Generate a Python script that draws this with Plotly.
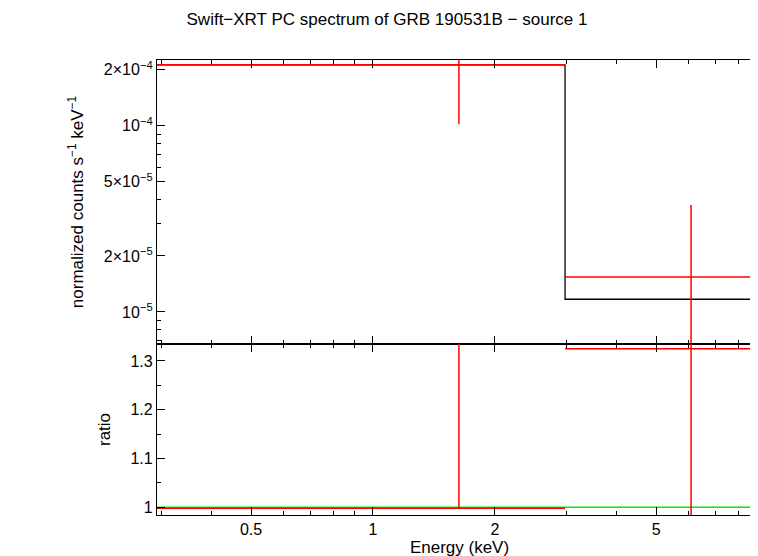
import plotly.graph_objects as go
from plotly.subplots import make_subplots
import math

x_center = [1.63, 6.1]
x_lo = [0.29, 2.98]
x_hi = [2.98, 10.0]
y_data = [2.13e-4, 1.54e-5]
y_err_lo = [1.02e-4, 1e-7]
y_err_hi = [1e-3, 3.76e-5]
model_x = [0.29, 2.98, 2.98, 10.0]
model_y = [2.13e-4, 2.13e-4, 1.17e-5, 1.17e-5]
ratio = [0.998, 1.325]
ratio_lo = [0.998, 0.5]
ratio_hi = [2.0, 2.0]

fig = make_subplots(rows=2, cols=1, shared_xaxes=True, vertical_spacing=0,
                    row_heights=[0.624, 0.376])
fig.add_trace(go.Scatter(x=model_x, y=model_y, mode="lines", line=dict(color="black", width=1.3)), 1, 1)
fig.add_trace(go.Scatter(
    x=x_center, y=y_data, mode="markers", marker=dict(size=0.1, color="red"),
    error_x=dict(type="data", symmetric=False, array=[h - c for h, c in zip(x_hi, x_center)],
                 arrayminus=[c - l for l, c in zip(x_lo, x_center)], color="red", width=0, thickness=1.5),
    error_y=dict(type="data", symmetric=False, array=[h - y for h, y in zip(y_err_hi, y_data)],
                 arrayminus=[y - l for l, y in zip(y_err_lo, y_data)], color="red", width=0, thickness=1.5)), 1, 1)
fig.add_trace(go.Scatter(x=[0.29, 10.0], y=[1.0, 1.0], mode="lines", line=dict(color="#00ee00", width=1.5)), 2, 1)
fig.add_trace(go.Scatter(
    x=x_center, y=ratio, mode="markers", marker=dict(size=0.1, color="red"),
    error_x=dict(type="data", symmetric=False, array=[h - c for h, c in zip(x_hi, x_center)],
                 arrayminus=[c - l for l, c in zip(x_lo, x_center)], color="red", width=0, thickness=1.5),
    error_y=dict(type="data", symmetric=False, array=[h - y for h, y in zip(ratio_hi, ratio)],
                 arrayminus=[y - l for l, y in zip(ratio_lo, ratio)], color="red", width=0, thickness=1.5)), 2, 1)

ax = dict(showline=True, linecolor="black", linewidth=1.3, mirror="ticks", ticks="inside",
          ticklen=8, tickcolor="black", showgrid=False, zeroline=False, automargin=False,
          tickfont=dict(size=16, color="black"))
fig.update_xaxes(type="log", range=[math.log10(0.293), math.log10(9.13)], **ax,
                 tickvals=[0.5, 1, 2, 5], ticktext=["0.5", "1", "2", "5"],
                 minor=dict(ticks="inside", ticklen=4, tickcolor="black", dtick="D1", showgrid=False))
fig.update_xaxes(showticklabels=False, row=1, col=1)
fig.update_xaxes(title=dict(text="Energy (keV)", font=dict(size=17, color="black"), standoff=2), row=2, col=1)
fig.update_yaxes(type="log", range=[math.log10(6.73e-6), math.log10(2.26e-4)], **ax, row=1, col=1,
                 tickvals=[1e-5, 2e-5, 5e-5, 1e-4, 2e-4],
                 ticktext=["10<sup>−5</sup>", "2×10<sup>−5</sup>", "5×10<sup>−5</sup>", "10<sup>−4</sup>", "2×10<sup>−4</sup>"],
                 minor=dict(ticks="inside", ticklen=4, tickcolor="black", dtick="D1"),
                 title=dict(text="normalized counts s<sup>−1</sup> keV<sup>−1</sup>", font=dict(size=17, color="black")))
fig.update_yaxes(range=[0.984, 1.335], **ax, row=2, col=1, tickvals=[1, 1.1, 1.2, 1.3],
                 ticktext=["1", "1.1", "1.2", "1.3"],
                 minor=dict(ticks="inside", ticklen=4, tickcolor="black", dtick=0.05),
                 title=dict(text="ratio", font=dict(size=17, color="black")))
fig.update_layout(width=758, height=556, showlegend=False, plot_bgcolor="white", paper_bgcolor="white",
                  font=dict(family="Liberation Sans, Arial", color="black"),
                  margin=dict(l=149, r=4, t=52, b=49, autoexpand=False),
                  title=dict(text="Swift−XRT PC spectrum of GRB 190531B − source 1", x=0.5, xanchor="center",
                             y=0.99, yanchor="top", font=dict(size=17, color="black")))
fig.write_html("out.html")
